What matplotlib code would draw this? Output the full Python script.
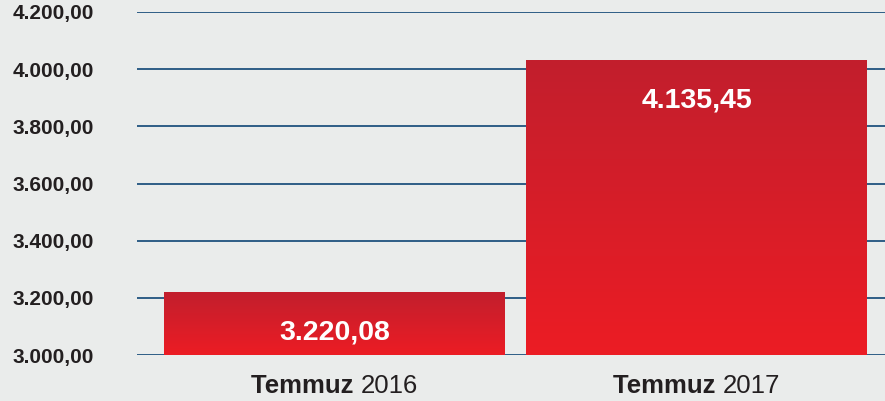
import matplotlib
matplotlib.use("Agg")
import matplotlib.pyplot as plt
import numpy as np
from matplotlib.colors import LinearSegmentedColormap
from matplotlib.transforms import blended_transform_factory, offset_copy

categories = ["Temmuz 2016", "Temmuz 2017"]
bar_values = [3220.08, 4032.0]          # heights as drawn in the picture
value_labels = ["3.220,08", "4.135,45"]  # labels as printed
y_ticks = [3000, 3200, 3400, 3600, 3800, 4000, 4200]
y_tick_labels = ["3.000,00", "3.200,00", "3.400,00", "3.600,00", "3.800,00", "4.000,00", "4.200,00"]

plt.rcParams['font.family'] = ['Liberation Sans', 'DejaVu Sans']

bg = "#eaeceb"
fig = plt.figure(figsize=(8.85, 4.01), dpi=100, facecolor=bg)
ax = fig.add_axes([137/885, (401-355)/401, (885-137)/885, 343/401], facecolor=bg)

ax.set_ylim(3000, 4200)
ax.set_xlim(-0.545, 1.52)

for y in y_ticks:
    ax.axhline(y, color="#0f4675", lw=1.2, zorder=1)

cmap = LinearSegmentedColormap.from_list("redgrad", ["#ec1c24", "#c21f2d"])
x = np.arange(len(categories))
bars = ax.bar(x, [v - 3000 for v in bar_values], bottom=3000, width=0.94,
              color="none", edgecolor="none", zorder=2)
grad = np.linspace(0, 1, 256).reshape(-1, 1)
for b in bars:
    x0, y0 = b.get_x(), b.get_y()
    w, h = b.get_width(), b.get_height()
    im = ax.imshow(grad, cmap=cmap, origin="lower", aspect="auto",
                   extent=[x0, x0 + w, y0, y0 + h], zorder=2)
    im.set_clip_path(b)

for xi, v, lab in zip(x, bar_values, value_labels):
    ax.text(xi, v - 143, lab, ha="center", va="center", color="white",
            fontsize=20.5, fontweight="bold", zorder=3)

ax.set_yticks(y_ticks)
ax.set_yticklabels(y_tick_labels, fontsize=15, fontweight="bold", color="#231f20")
ax.set_xticks([])
ax.tick_params(axis="y", length=0, pad=31)
for s in ax.spines.values():
    s.set_visible(False)
ax.set_xlim(-0.545, 1.52)
ax.set_ylim(3000, 4200)

# x labels: bold month + regular year, centred under each bar
fig.canvas.draw()
renderer = fig.canvas.get_renderer()
trans = blended_transform_factory(ax.transData, ax.transAxes)
for xi, c in zip(x, categories):
    month, year = c.split(" ")
    t1 = ax.text(xi, -0.055, month + " ", transform=trans, ha="left", va="top",
                 fontsize=18.5, fontweight="bold", color="#231f20")
    t2 = ax.text(xi, -0.055, year, transform=trans, ha="left", va="top",
                 fontsize=18.5, color="#231f20")
    w1 = t1.get_window_extent(renderer).width
    w2 = t2.get_window_extent(renderer).width
    total = w1 + w2
    t1.set_transform(offset_copy(trans, fig=fig, x=-total / 2, units="dots"))
    t2.set_transform(offset_copy(trans, fig=fig, x=-total / 2 + w1, units="dots"))

fig.savefig("out.png", dpi=100, facecolor=bg)
